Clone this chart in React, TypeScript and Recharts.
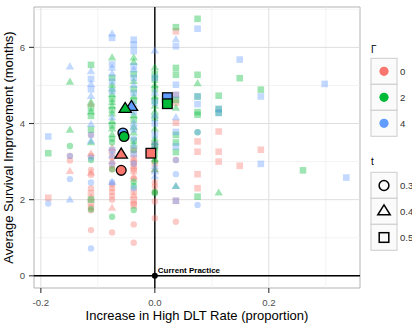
import React from 'react';
import { ScatterChart, Scatter, XAxis, YAxis, ReferenceLine, ReferenceArea } from 'recharts';

const W = 412;
const H = 323;
const FONT = 'Liberation Sans, Arial, Helvetica, sans-serif';

// Axis setup
const X_DOMAIN: [number, number] = [-0.212, 0.36];
const Y_DOMAIN: [number, number] = [-0.32, 7.06];
const X_TICKS = [-0.2, 0, 0.2];
const Y_TICKS = [0, 2, 4, 6];
const X_MINOR = [-0.1, 0.1, 0.3];
const Y_MINOR = [1, 3, 5, 7];

// Legend levels
const GAMMA_LEVELS = [0, 2, 4];
const GAMMA_COLORS = ['#F8766D', '#00BA38', '#619CFF'];
const T_LEVELS = [0.3, 0.4, 0.5];
const T_SHAPES = ['circle', 'triangle', 'square'];

// Each entry: [increase in high DLT rate, survival improvements at that rate]
type Column = [number, number[]];

// Gamma = 0
const g0t03: Column[] = [
  [-0.149, [3.15, 3.03]],
  [-0.112, [3.7, 3.15, 2.78, 2.65, 2.3, 1.8, 1.72, 1.2]],
  [-0.075, [3.1, 2.9, 2.8, 2.4, 2.3, 2.2, 2.1, 2.0, 1.14]],
  [-0.037, [2.95, 2.8, 2.55, 1.9, 1.35, 0.87]],
  [0, [2.45, 2.35, 2.2, 1.95, 1.51]],
  [0.037, [3.04, 1.42]],
];
const g0t04: Column[] = [
  [-0.149, [2.74]],
  [-0.112, [4.5, 3.2, 2.7, 2.05]],
  [-0.075, [3.35, 3.0, 1.77]],
  [-0.037, [3.05, 2.6, 2.1]],
  [0, [2.78]],
];
const g0t05: Column[] = [
  [-0.187, [2.05]],
  [-0.112, [2.17, 1.91]],
  [-0.075, [3.25]],
  [-0.037, [3.3, 3.1, 2.9, 2.75, 2.2, 2.0, 1.85]],
  [0, [3.45, 2.95]],
  [0.037, [6.42, 4.75, 4.55, 4.02, 1.97]],
  [0.075, [3.53, 3.26, 2.67, 2.3]],
  [0.112, [3.79, 3.26, 3.0]],
  [0.149, [2.89]],
  [0.186, [3.31]],
];

// Gamma = 2
const g2t03: Column[] = [
  [-0.149, [3.41]],
  [-0.112, [3.04, 1.75]],
  [-0.075, [3.6, 3.5, 2.8, 1.55]],
  [-0.037, [3.3, 2.47, 2.36, 1.73]],
  [0, [3.15, 3.0, 2.2, 2.17]],
  [0.075, [3.77]],
];
const g2t04: Column[] = [
  [-0.149, [5.08, 3.82]],
  [-0.112, [4.55, 4.3, 3.49]],
  [-0.075, [5.72, 5.0, 4.9, 4.75, 4.55, 4.45, 4.25, 4.05, 3.85, 3.7]],
  [-0.037, [5.72, 5.6, 5.1, 4.7, 4.4, 4.2, 3.9, 3.75, 3.45]],
  [0, [5.46, 5.0, 4.7, 4.45, 4.3, 3.85, 3.6, 3.5, 3.05, 2.78]],
  [0.037, [4.4, 2.34]],
  [0.075, [5.04]],
  [0.112, [2.17]],
];
const g2t05: Column[] = [
  [-0.187, [3.22]],
  [-0.112, [5.54, 4.4, 4.2, 3.84, 2.0]],
  [-0.075, [5.2, 4.65, 4.35, 3.95]],
  [-0.037, [5.3, 4.9, 4.6, 4.1, 3.55]],
  [0, [5.3, 5.15, 4.9, 4.6, 4.15, 3.4, 3.3]],
  [0.037, [6.53, 5.46, 5.28, 4.62, 3.7, 3.5, 3.25]],
  [0.075, [6.75, 5.28, 4.71, 4.3, 4.23, 2.08]],
  [0.112, [4.73, 4.38, 4.28]],
  [0.149, [5.19]],
  [0.186, [4.89]],
  [0.26, [2.77]],
];

// Gamma = 4
const g4t03: Column[] = [
  [-0.187, [1.9]],
  [-0.149, [3.15, 2.54]],
  [-0.112, [3.7, 3.1, 2.45, 0.72]],
  [-0.075, [2.95, 2.45]],
  [-0.037, [3.6, 2.95, 2.3]],
  [0.037, [3.04, 2.67]],
  [0.075, [3.77, 1.86]],
];
const g4t04: Column[] = [
  [-0.149, [5.48, 1.99]],
  [-0.112, [5.36, 5.02, 4.71, 3.97, 3.53]],
  [-0.075, [6.35, 5.45, 5.3, 4.15, 3.15, 2.45]],
  [-0.037, [5.4, 5.0, 4.5, 4.0, 3.4]],
  [0, [5.9, 4.8, 4.2, 2.86, 2.73, 2.6]],
  [0.037, [6.2, 4.15, 2.34]],
];
const g4t05: Column[] = [
  [-0.187, [3.66]],
  [-0.112, [5.17, 4.9]],
  [-0.075, [6.25, 5.55, 5.1, 4.85, 3.3]],
  [-0.037, [6.2, 6.07, 5.9, 5.5, 5.2, 4.8, 4.3, 3.85, 3.2]],
  [0, [5.2, 4.55, 4.0, 3.7, 3.45]],
  [0.037, [6.03, 5.02, 4.75, 3.78, 3.4, 1.97]],
  [0.075, [6.49, 4.71, 4.51]],
  [0.112, [4.38, 4.28]],
  [0.149, [5.68]],
  [0.186, [4.71, 2.94]],
  [0.298, [5.04]],
  [0.336, [2.58]],
];

// Average of each (gamma, t) design
const meanGamma = [4, 4, 4, 2, 2, 2, 0, 0, 0];
const meanT = [0.3, 0.4, 0.5, 0.3, 0.4, 0.5, 0.3, 0.4, 0.5];
const meanDlt = [-0.056, -0.041, 0.022, -0.054, -0.052, 0.022, -0.059, -0.059, -0.007];
const meanSurvival = [3.75, 4.43, 4.68, 3.66, 4.38, 4.52, 2.77, 3.18, 3.22];

const currentPractice = [{ x: 0, y: 0, label: 'Current Practice' }];

const groups = [
  { gamma: 0, t: 0.3, cols: g0t03 },
  { gamma: 0, t: 0.4, cols: g0t04 },
  { gamma: 0, t: 0.5, cols: g0t05 },
  { gamma: 2, t: 0.3, cols: g2t03 },
  { gamma: 2, t: 0.4, cols: g2t04 },
  { gamma: 2, t: 0.5, cols: g2t05 },
  { gamma: 4, t: 0.3, cols: g4t03 },
  { gamma: 4, t: 0.4, cols: g4t04 },
  { gamma: 4, t: 0.5, cols: g4t05 },
];

const toPoints = (cols: Column[]) => cols.flatMap(([x, ys]) => ys.map((y) => ({ x, y })));
const colorOf = (gamma: number) => GAMMA_COLORS[GAMMA_LEVELS.indexOf(gamma)];
const shapeOf = (t: number) => T_SHAPES[T_LEVELS.indexOf(t)];

function Marker(props: {
  cx: number;
  cy: number;
  shape: string;
  fill: string;
  big?: boolean;
  fillOpacity?: number;
  stroke?: string;
  strokeWidth?: number;
}) {
  const { cx, cy, shape, fill, big, fillOpacity = 1, stroke = 'none', strokeWidth = 0 } = props;
  if (cx == null || cy == null) return null;
  const common = { fill, fillOpacity, stroke, strokeWidth };
  if (shape === 'circle') {
    return <circle cx={cx} cy={cy} r={big ? 4.9 : 3.2} {...common} />;
  }
  if (shape === 'triangle') {
    const hw = big ? 6.2 : 4.2;
    const h = big ? 10 : 7.2;
    const pts = `${cx - hw},${cy + h / 3} ${cx + hw},${cy + h / 3} ${cx},${cy - (2 * h) / 3}`;
    return <polygon points={pts} {...common} strokeLinejoin="miter" />;
  }
  const s = big ? 4.8 : 3.3;
  return <rect x={cx - s} y={cy - s} width={2 * s} height={2 * s} {...common} />;
}

export default function App() {
  const tickStyle = { fontSize: 9.6, fill: '#4d4d4d', fontFamily: FONT };
  return (
    <div style={{ position: 'absolute', left: 0, top: 0, width: W, height: H, background: '#fff' }}>
      <ScatterChart width={W} height={H} margin={{ top: 7, right: 52, bottom: 0, left: 0 }}>
        <XAxis
          type="number"
          dataKey="x"
          domain={X_DOMAIN}
          ticks={X_TICKS}
          interval={0}
          allowDataOverflow
          height={35}
          axisLine={false}
          tickLine={{ stroke: '#333', strokeWidth: 1.1 }}
          tickSize={5}
          tickMargin={6}
          tick={tickStyle}
          tickFormatter={(v: number) => v.toFixed(1)}
        />
        <YAxis
          type="number"
          dataKey="y"
          domain={Y_DOMAIN}
          ticks={Y_TICKS}
          interval={0}
          allowDataOverflow
          width={34}
          axisLine={false}
          tickLine={{ stroke: '#333', strokeWidth: 1.1 }}
          tickSize={5}
          tickMargin={4}
          tick={tickStyle}
        />
        {X_MINOR.map((v) => (
          <ReferenceLine key={`xm${v}`} x={v} stroke="#eeeeee" strokeWidth={0.7} />
        ))}
        {Y_MINOR.map((v) => (
          <ReferenceLine key={`ym${v}`} y={v} stroke="#eeeeee" strokeWidth={0.7} />
        ))}
        {X_TICKS.map((v) => (
          <ReferenceLine key={`xg${v}`} x={v} stroke="#dedede" strokeWidth={1} />
        ))}
        {Y_TICKS.map((v) => (
          <ReferenceLine key={`yg${v}`} y={v} stroke="#dedede" strokeWidth={1} />
        ))}
        <ReferenceArea
          x1={X_DOMAIN[0]}
          x2={X_DOMAIN[1]}
          y1={Y_DOMAIN[0]}
          y2={Y_DOMAIN[1]}
          fill="none"
          stroke="#b3b3b3"
          strokeWidth={1}
        />
        <ReferenceLine x={0} stroke="#000" strokeWidth={1.4} />
        <ReferenceLine y={0} stroke="#000" strokeWidth={1.4} />
        {groups.map((g) => (
          <Scatter
            key={`g${g.gamma}-${g.t}`}
            data={toPoints(g.cols)}
            isAnimationActive={false}
            shape={(p: any) => (
              <Marker cx={p.cx} cy={p.cy} shape={shapeOf(g.t)} fill={colorOf(g.gamma)} fillOpacity={0.38} />
            )}
          />
        ))}
        {meanDlt.map((x, i) => (
          <Scatter
            key={`mean${i}`}
            data={[{ x, y: meanSurvival[i] }]}
            isAnimationActive={false}
            shape={(p: any) => (
              <Marker
                cx={p.cx}
                cy={p.cy}
                shape={shapeOf(meanT[i])}
                fill={colorOf(meanGamma[i])}
                big
                stroke="#000"
                strokeWidth={1.3}
              />
            )}
          />
        ))}
        <Scatter
          data={currentPractice}
          isAnimationActive={false}
          shape={(p: any) => (
            <g>
              <circle cx={p.cx} cy={p.cy} r={3} fill="#000" />
              <text
                x={p.cx + 3}
                y={p.cy - 3}
                fontSize={8}
                fontWeight="bold"
                fontFamily={FONT}
                fill="#000"
              >
                {p.payload.label}
              </text>
            </g>
          )}
        />
      </ScatterChart>
      <svg
        width={W}
        height={H}
        style={{ position: 'absolute', left: 0, top: 0, pointerEvents: 'none' }}
        fontFamily={FONT}
      >
        <text x={197} y={319.5} textAnchor="middle" fontSize={13} fill="#000">
          Increase in High DLT Rate (proportion)
        </text>
        <text transform="translate(12.8,147.5) rotate(-90)" textAnchor="middle" fontSize={13} fill="#000">
          Average Survival Improvement (months)
        </text>

        <text x={371} y={52.7} fontSize={10} fill="#000">Γ</text>
        {GAMMA_LEVELS.map((g, i) => (
          <g key={`lg${g}`}>
            <rect x={371} y={58.3 + 26 * i} width={26} height={26} fill="#fbfbfb" stroke="#cccccc" strokeWidth={1} />
            <circle cx={384} cy={71.3 + 26 * i} r={4.6} fill={GAMMA_COLORS[i]} />
            <text x={400} y={74.6 + 26 * i} fontSize={9.6} fill="#333">{g}</text>
          </g>
        ))}

        <text x={371} y={165} fontSize={10} fill="#000">t</text>
        {T_LEVELS.map((t, i) => (
          <g key={`lt${t}`}>
            <rect x={371} y={172.3 + 26 * i} width={26} height={26} fill="#fbfbfb" stroke="#cccccc" strokeWidth={1} />
            <Marker
              cx={384}
              cy={185.5 + 26 * i}
              shape={T_SHAPES[i]}
              fill="none"
              big
              stroke="#000"
              strokeWidth={1.5}
            />
            <text x={400} y={188.8 + 26 * i} fontSize={9.6} fill="#333">{t.toFixed(1)}</text>
          </g>
        ))}
      </svg>
    </div>
  );
}
